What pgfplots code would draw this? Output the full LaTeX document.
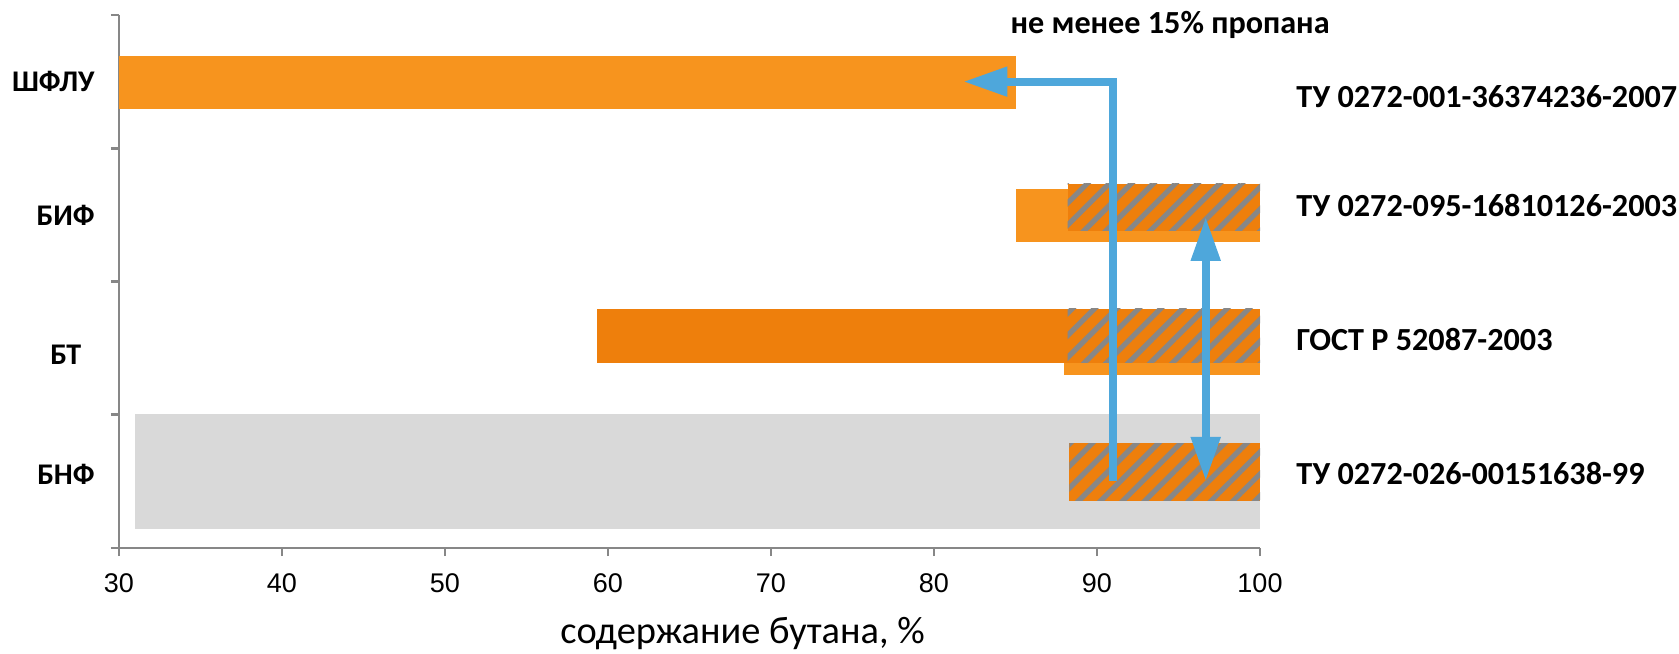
\documentclass[border=0pt]{standalone}
\usepackage{fontspec}
\setmainfont{Carlito}
\newfontfamily\tickfont{Liberation Sans}
\usepackage{pgfplots}
\pgfplotsset{compat=1.18}
\usetikzlibrary{arrows.meta,patterns.meta}

\definecolor{lightor}{HTML}{F7941E}
\definecolor{darkor}{HTML}{EE7F0C}
\definecolor{hatchgray}{HTML}{878787}
\definecolor{barbg}{HTML}{D9D9D9}
\definecolor{arrowblue}{HTML}{4EA7DB}
\definecolor{axisgray}{HTML}{878787}

\tikzset{
  hatch/.style={draw=none, pattern={Lines[angle=45,distance=7.8pt,line width=2.6pt]}, pattern color=hatchgray},
  lbl/.style={font=\bfseries\fontsize{15}{18}\selectfont, inner sep=0pt},
  spec/.style={font=\bfseries\fontsize{16.1}{19}\selectfont, inner sep=0pt},
  tip/.tip={Triangle[length=22pt,width=14pt]},
}

\begin{document}
\begin{tikzpicture}
\begin{axis}[
  at={(0,0)}, anchor=south west,
  scale only axis, width=570.5pt, height=266.5pt,
  xmin=30, xmax=100, ymin=-0.5, ymax=3.5,
  axis lines*=left,
  axis line style={draw=axisgray, line width=1.4pt, -},
  tick style={draw=axisgray, line width=1.4pt},
  tick align=outside, major tick length=4pt,
  xtick={30,40,...,100},
  ytick={-0.5,0.5,1.5,2.5,3.5}, yticklabels={},
  /pgf/number format/assume math mode=true,
  xticklabel style={font=\tickfont\fontsize{13.5}{16}\selectfont, yshift=-5.4pt},
  clip=false,
]
% БНФ background range
\addplot[fill=barbg, draw=none] coordinates {(31,-0.354) (100,-0.354) (100,0.506) (31,0.506)} -- cycle;
% light orange ranges
\addplot[fill=lightor, draw=none] coordinates {(30,2.795) (85,2.795) (85,3.193) (30,3.193)} -- cycle;
\addplot[fill=lightor, draw=none] coordinates {(85,1.799) (100,1.799) (100,2.195) (85,2.195)} -- cycle;
\addplot[fill=lightor, draw=none] coordinates {(88,0.799) (100,0.799) (100,1.199) (88,1.199)} -- cycle;
% БТ dark orange range
\addplot[fill=darkor, draw=none] coordinates {(59.3,0.891) (100,0.891) (100,1.294) (59.3,1.294)} -- cycle;
% hatched ranges
\addplot[fill=darkor, draw=none] coordinates {(88.2,1.88) (100,1.88) (100,2.233) (88.2,2.233)} -- cycle;
\addplot[hatch] coordinates {(88.2,1.88) (100,1.88) (100,2.233) (88.2,2.233)} -- cycle;
\addplot[hatch] coordinates {(88.2,0.891) (100,0.891) (100,1.294) (88.2,1.294)} -- cycle;
\addplot[fill=darkor, draw=none] coordinates {(88.3,-0.145) (100,-0.145) (100,0.288) (88.3,0.288)} -- cycle;
\addplot[hatch] coordinates {(88.3,-0.145) (100,-0.145) (100,0.288) (88.3,0.288)} -- cycle;
% arrows
\addplot[draw=arrowblue, line width=4pt, -tip] coordinates {(91,0.003) (91,3.0) (81.8,3.0)};
\addplot[draw=arrowblue, line width=4pt, tip-tip] coordinates {(96.67,0.003) (96.67,1.985)};

% category labels
\node[lbl, anchor=east] at (axis cs:30,3.0) [xshift=-12pt] {ШФЛУ};
\node[lbl, anchor=east] at (axis cs:30,2.0) [xshift=-12pt] {БИФ};
\node[lbl, anchor=east] at (axis cs:30,0.95) [xshift=-18.75pt] {БТ};
\node[lbl, anchor=east] at (axis cs:30,0.056) [xshift=-12pt] {БНФ};
% spec labels
\node[spec, anchor=west] at (axis cs:100,2.885) [xshift=18pt] {ТУ 0272-001-36374236-2007};
\node[spec, anchor=west] at (axis cs:100,2.07) [xshift=18pt] {ТУ 0272-095-16810126-2003};
\node[spec, anchor=west] at (axis cs:100,1.065) [xshift=18pt] {ГОСТ Р 52087-2003};
\node[spec, anchor=west] at (axis cs:100,0.058) [xshift=18pt] {ТУ 0272-026-00151638-99};
\node[spec, anchor=west] at (axis cs:84.67,3.425) {не менее 15\% пропана};
% axis title
\node[anchor=base, font=\fontsize{19.2}{22}\selectfont] at (axis cs:68.25,-0.5) [yshift=-47.5pt] {содержание бутана, \%};
\end{axis}
\pgfresetboundingbox
\path[use as bounding box] (-59.5pt,-52.5pt) rectangle (780pt,274pt);
\end{tikzpicture}
\end{document}
